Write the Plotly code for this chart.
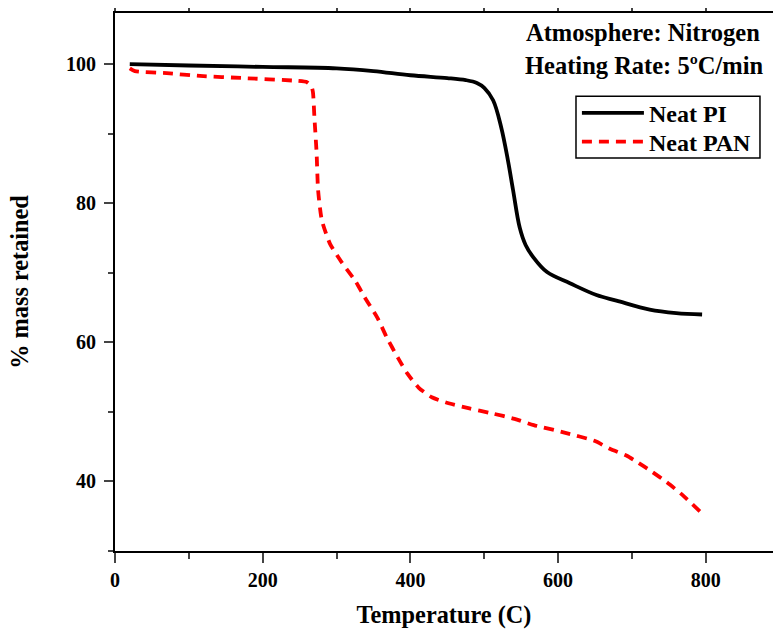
import plotly.graph_objects as go

# Data
pi_temp = [20, 100, 200, 300, 350, 400, 450, 475, 490, 500, 512, 523, 532, 539, 548, 556, 566, 585, 616, 652, 679, 724, 760, 795]
pi_mass = [100, 99.8, 99.6, 99.4, 99.0, 98.4, 98.0, 97.7, 97.3, 96.6, 94.8, 90.9, 86.2, 81.9, 76.5, 74.0, 72.3, 70.1, 68.5, 66.8, 66.0, 64.7, 64.2, 64.0]

pan_temp = [20, 27, 70, 115, 173, 246, 260, 266, 268, 270, 273, 275, 280, 291, 307, 325, 338, 355, 368, 383, 396, 411,
            429, 453, 480, 510, 541, 567, 606, 650, 670, 693, 704, 727, 747, 769, 794]
pan_mass = [99.4, 99.0, 98.7, 98.3, 98.0, 97.6, 97.4, 96.8, 96.0, 92.4, 87.2, 81.9, 77.6, 74.2, 71.5, 68.9, 66.5, 63.6,
            60.7, 57.8, 55.5, 53.5, 52.1, 51.2, 50.5, 49.8, 49.0, 48.1, 47.1, 45.8, 44.7, 43.7, 43.0, 41.4, 39.9, 38.0, 35.5]

x_ticks = [0, 200, 400, 600, 800]
y_ticks = [40, 60, 80, 100]

FONT = "Liberation Serif"

fig = go.Figure()
fig.add_trace(go.Scatter(x=pi_temp, y=pi_mass, mode="lines", name="Neat PI", legend="legend",
                         line=dict(color="black", width=3.8, shape="spline", smoothing=1.0)))
fig.add_trace(go.Scatter(x=pan_temp, y=pan_mass, mode="lines", name="Neat PAN", legend="legend2",
                         line=dict(color="#ff0000", width=3.8, dash="10px,7px", shape="spline", smoothing=0.6)))
# invisible trace to host the top axis
fig.add_trace(go.Scatter(x=[0], y=[30], xaxis="x2", mode="markers", marker=dict(opacity=0),
                         showlegend=False, hoverinfo="skip"))

legend_common = dict(xanchor="left", yanchor="middle", borderwidth=0, bgcolor="rgba(0,0,0,0)",
                     font=dict(size=24, family=FONT, weight="bold"), itemwidth=62)

fig.update_layout(
    width=773, height=629,
    margin=dict(l=115, r=0, t=13, b=78),
    plot_bgcolor="white", paper_bgcolor="white",
    font=dict(family=FONT, color="black", weight="bold"),
    xaxis=dict(range=[0, 891], tickvals=x_ticks, ticks="outside", ticklen=10, tickwidth=2,
               showline=True, linecolor="black", linewidth=2, showgrid=False, zeroline=False,
               tickfont=dict(size=20, family=FONT, weight="bold"), ticklabelstandoff=0,
               minor=dict(dtick=100, tick0=0, ticks="outside", ticklen=6, tickwidth=2, showgrid=False),
               title=dict(text="Temperature (C)", font=dict(size=24.3, family=FONT, weight="bold"), standoff=16)),
    xaxis2=dict(range=[0, 891], overlaying="x", side="top", showline=True, linecolor="black", linewidth=2,
                ticks="outside", ticklen=3, tickwidth=1.5, dtick=100, tick0=0, showticklabels=False,
                showgrid=False, zeroline=False),
    yaxis=dict(range=[30, 107.35], tickvals=y_ticks, ticks="outside", ticklen=9, tickwidth=2,
               showline=True, linecolor="black", linewidth=2, showgrid=False, zeroline=False,
               tickfont=dict(size=20, family=FONT, weight="bold"), ticklabelstandoff=4,
               minor=dict(dtick=10, tick0=30, ticks="outside", ticklen=5, tickwidth=2, showgrid=False),
               title=dict(text="% mass retained", font=dict(size=24.3, family=FONT, weight="bold"), standoff=30)),
    legend=dict(x=0.702, y=0.8138, **legend_common),
    legend2=dict(x=0.702, y=0.760, **legend_common),
    showlegend=True,
)

# legend frame
fig.add_shape(type="rect", xref="paper", yref="paper", x0=0.7006, x1=0.9802, y0=0.7303, y1=0.8454,
              line=dict(color="black", width=1.5), fillcolor="rgba(0,0,0,0)", layer="above")

fig.add_annotation(text="Atmosphere: Nitrogen", xref="paper", yref="paper", x=0.9835, y=1.0,
                   xanchor="right", yanchor="top", showarrow=False, yshift=-4,
                   font=dict(size=24.5, family=FONT, weight="bold"))
fig.add_annotation(text="Heating Rate: 5ºC/min", xref="paper", yref="paper", x=0.9885, y=1.0,
                   xanchor="right", yanchor="top", showarrow=False, yshift=-37,
                   font=dict(size=24.5, family=FONT, weight="bold"))

fig.write_html("out.html")
